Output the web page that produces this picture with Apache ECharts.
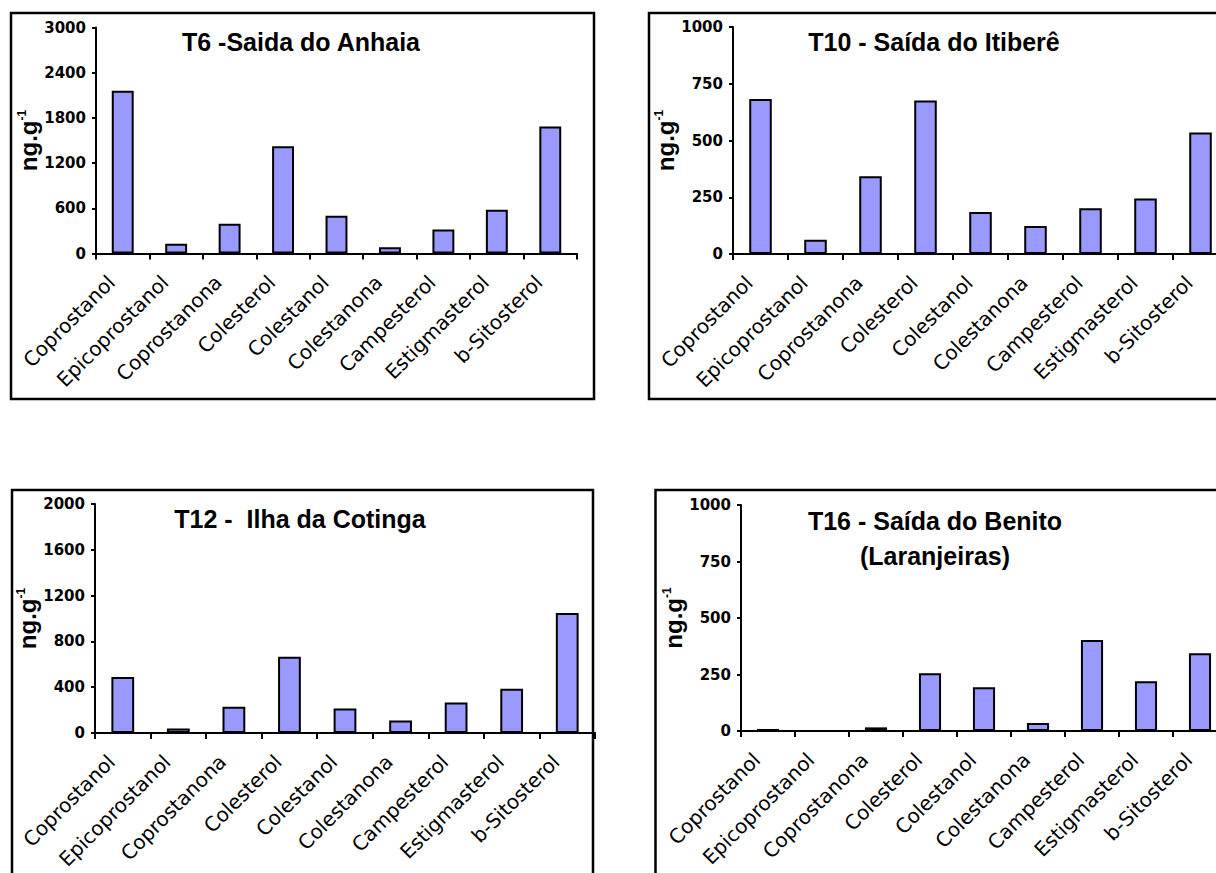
<!DOCTYPE html>
<html>
<head>
<meta charset="utf-8">
<script src="https://cdn.jsdelivr.net/npm/echarts@6/dist/echarts.min.js"></script>
<style>
html,body{margin:0;padding:0;background:#fff;overflow:hidden;}
#c{width:1260px;height:873px;}
</style>
</head>
<body>
<div id="c"></div>
<script>
const categories = ['Coprostanol','Epicoprostanol','Coprostanona','Colesterol','Colestanol','Colestanona','Campesterol','Estigmasterol','b-Sitosterol'];
const t6Values  = [2160, 130, 395, 1425, 500, 82, 320, 580, 1685];
const t10Values = [683, 63, 342, 676, 185, 123, 202, 245, 535];
const t12Values = [490, 40, 230, 665, 215, 110, 267, 387, 1047];
const t16Values = [9, 0, 16, 256, 194, 35, 403, 220, 344];
const titles = ['T6 -Saida do Anhaia', 'T10 - Saída do Itiberê', 'T12 -  Ilha da Cotinga', 'T16 - Saída do Benito\n(Laranjeiras)'];
const yMax = [3000, 1000, 2000, 1000];
const yStep = [600, 250, 400, 250];
const yName = 'ng.g';
const ySup = '-1';

const panels = [
  {grid:{left:96, top:27.5, width:481, height:226}, border:[11,13,583,386], title:[301,42]},
  {grid:{left:733, top:27, width:495, height:227}, border:[649,13,620,386], title:[934,42]},
  {grid:{left:95, top:504, width:500, height:229}, border:[12,490,581,420], title:[300,519]},
  {grid:{left:741, top:505, width:486, height:226}, border:[655.5,490,620,420], title:[935,538]}
];
const seriesData = [t6Values, t10Values, t12Values, t16Values];

const option = {
  backgroundColor:'#fff',
  animation:false,
  grid: panels.map(p => Object.assign({containLabel:false, outerBoundsMode:'none'}, p.grid)),
  xAxis: panels.map((p,i) => ({
    type:'category', gridIndex:i, data:categories,
    axisLine:{lineStyle:{color:'#000', width:2}},
    axisTick:{show:true, length:6, lineStyle:{color:'#000', width:2}},
    axisLabel:{interval:0, rotate:45, margin:14, padding:[0,16,0,0], color:'#000',
      fontFamily:'DejaVu Sans', fontSize:20}
  })),
  yAxis: panels.map((p,i) => ({
    type:'value', gridIndex:i, min:0, max:yMax[i], interval:yStep[i],
    splitLine:{show:false},
    axisLine:{show:true, lineStyle:{color:'#000', width:2}},
    axisTick:{show:true, length:4, lineStyle:{color:'#000', width:2}},
    axisLabel:{margin:10, color:'#000', fontFamily:'DejaVu Sans', fontWeight:'bold', fontSize:15,
      formatter: v => String(v)},
    name:'{b|' + yName + '}{s|' + ySup + '}',
    nameLocation:'middle', nameRotate:90, nameGap:50,
    nameTextStyle:{rich:{
      b:{fontFamily:'Liberation Sans', fontWeight:'bold', fontSize:24, color:'#000', lineHeight:24, verticalAlign:'middle'},
      s:{fontFamily:'Liberation Sans', fontWeight:'bold', fontSize:12, color:'#000', lineHeight:18, verticalAlign:'top'}
    }}
  })),
  series: seriesData.map((d,i) => ({
    type:'bar', xAxisIndex:i, yAxisIndex:i, data:d, barWidth:'41%',
    itemStyle:{color:'#9999FF', borderColor:'#000', borderWidth:2}
  })),
  graphic: [].concat(
    panels.map(p => ({type:'rect', shape:{x:p.border[0], y:p.border[1], width:p.border[2], height:p.border[3]},
      style:{fill:'none', stroke:'#000', lineWidth:2.5}, z:-1})),
    panels.map((p,i) => ({type:'text', x:p.title[0], y:p.title[1],
      style:{text:titles[i], textAlign:'center', textVerticalAlign:'middle', fill:'#000',
        font:'bold 25px "Liberation Sans"', lineHeight:35}}))
  )
};
const chart = echarts.init(document.getElementById('c'), null, {renderer:'svg'});
chart.setOption(option);
</script>
</body>
</html>
